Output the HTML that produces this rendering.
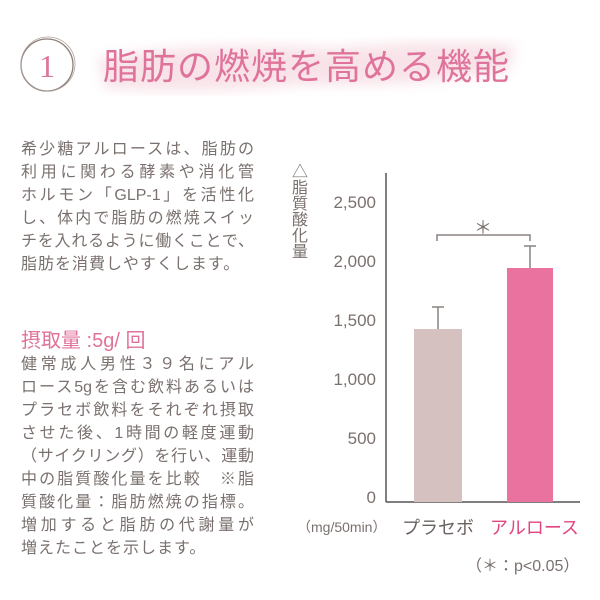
<!DOCTYPE html>
<html><head><meta charset="utf-8"><style>
body{margin:0;width:600px;height:600px;background:#fff;position:relative;overflow:hidden;font-family:"Liberation Sans","Noto Sans CJK JP",sans-serif;}
.a{position:absolute;white-space:nowrap;}
.ln{position:absolute;left:21px;width:233px;font-size:16px;color:#7a716e;text-align:justify;text-align-last:justify;line-height:23px;white-space:nowrap;}
.sh{text-align-last:left;text-align:left;letter-spacing:1px;}
</style></head><body>
<svg class="a" style="left:0;top:0" width="600" height="600">
<defs><filter id="b"><feGaussianBlur stdDeviation="6"/></filter></defs>
<g filter="url(#b)" fill="#f6dde3" opacity="0.8">
<path d="M98 58 Q200 40 330 48 Q440 38 515 45 L510 70 Q420 88 300 85 Q200 95 105 88 Z"/>
</g>
<circle cx="47" cy="65" r="26" fill="none" stroke="#8a7d78" stroke-width="1.3"/>
<circle cx="48" cy="64" r="27" fill="none" stroke="#b0a39e" stroke-width="0.8"/>
<text x="47" y="77" text-anchor="middle" font-family="Liberation Serif,serif" font-size="32" fill="#e0739b">1</text>
<line x1="386" y1="173" x2="386" y2="502" stroke="#555" stroke-width="1.5"/>
<line x1="386" y1="502" x2="580" y2="502" stroke="#555" stroke-width="1.5"/>
<g font-size="17" fill="#7a716e" text-anchor="end">
<text x="376" y="208">2,500</text><text x="376" y="267">2,000</text><text x="376" y="326">1,500</text>
<text x="376" y="385">1,000</text><text x="376" y="444">500</text><text x="376" y="503">0</text>
</g>
<rect x="414" y="329" width="48" height="173" fill="#d6c1c1"/>
<rect x="507" y="268" width="46" height="234" fill="#e9739e"/>
<g stroke="#8a8280" stroke-width="1.5" fill="none">
<path d="M438 329V307M432 307H444"/>
<path d="M530 268V246M524 246H536"/>
<path d="M437 241V235H530V241"/>
</g>
<text x="483" y="234" text-anchor="middle" font-size="18" fill="#7a716e" font-family="Noto Sans CJK JP,sans-serif">＊</text>
</svg>
<div class="a" style="left:103px;top:38px;font-size:36px;letter-spacing:1px;color:#e0739b;">脂肪の燃焼を高める機能</div>
<div class="a" style="left:288px;top:163px;writing-mode:vertical-rl;font-size:16px;line-height:18px;color:#7a716e;">△脂質酸化量</div>
<div class="a" style="left:297px;top:517px;font-size:14px;color:#7a716e;">（mg/50min）</div>
<div class="a" style="left:402px;top:514px;font-size:18px;color:#6a625f;">プラセボ</div>
<div class="a" style="left:490px;top:514px;font-size:18px;color:#e0457f;">アルロース</div>
<div class="a" style="left:466px;top:552px;font-size:16px;color:#7a716e;">（＊：p&lt;0.05）</div>
<div class="ln" style="top:138px">希少糖アルロースは、脂肪の</div>
<div class="ln" style="top:161px">利用に関わる酵素や消化管</div>
<div class="ln" style="top:184px">ホルモン「GLP-1」を活性化</div>
<div class="ln" style="top:207px">し、体内で脂肪の燃焼スイッ</div>
<div class="ln" style="top:230px">チを入れるように働くことで、</div>
<div class="ln sh" style="top:253px">脂肪を消費しやすくします。</div>
<div class="a" style="left:21px;top:324px;font-size:20px;color:#e0739b;">摂取量 :5g/ 回</div>
<div class="ln" style="top:353px">健常成人男性３９名にアル</div>
<div class="ln" style="top:376px">ロース5gを含む飲料あるいは</div>
<div class="ln" style="top:399px">プラセボ飲料をそれぞれ摂取</div>
<div class="ln" style="top:422px">させた後、1時間の軽度運動</div>
<div class="ln" style="top:445px">（サイクリング）を行い、運動</div>
<div class="ln" style="top:468px">中の脂質酸化量を比較　※脂</div>
<div class="ln" style="top:491px">質酸化量：脂肪燃焼の指標。</div>
<div class="ln" style="top:514px">増加すると脂肪の代謝量が</div>
<div class="ln sh" style="top:537px">増えたことを示します。</div>
</body></html>
